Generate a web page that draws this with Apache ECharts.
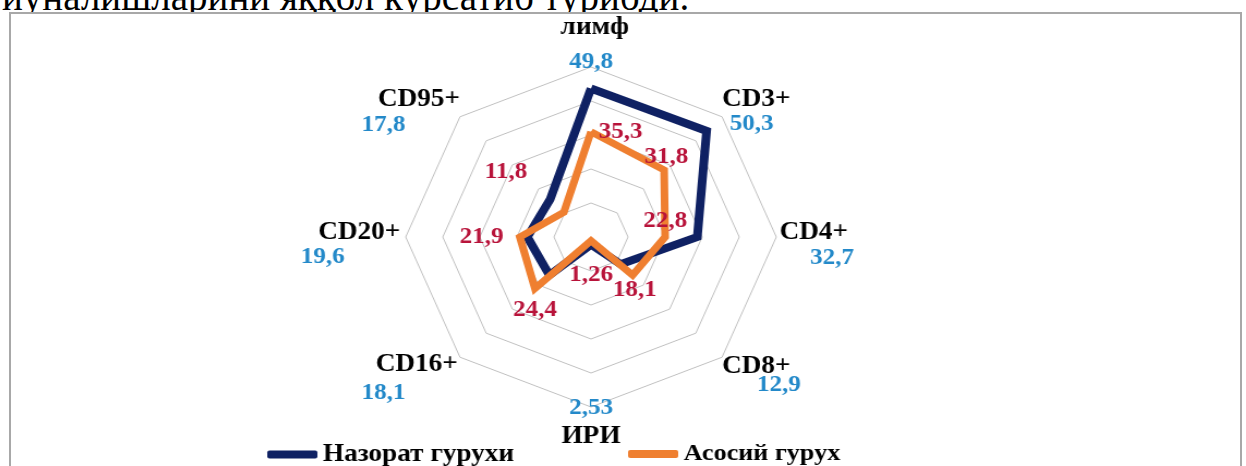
<!DOCTYPE html>
<html><head><meta charset="utf-8">
<script src="https://cdn.jsdelivr.net/npm/echarts@6/dist/echarts.min.js"></script>
<style>
html,body{margin:0;padding:0;background:#fff;overflow:hidden;width:1246px;height:466px}
#txt{position:absolute;left:2px;top:-22px;font:39px/38px "Liberation Serif";white-space:nowrap;color:#000;z-index:1}
#frame{position:absolute;left:9px;top:12px;width:1233px;height:470px;border:2px solid #a8a8a8;background:#fff;z-index:2;box-sizing:border-box}
#chart{position:absolute;left:0;top:0;width:1246px;height:466px;z-index:3;transform:scaleX(1.09);transform-origin:591px 0}
</style></head><body>
<div id="txt">йўналишларини яққол кўрсатиб турибди.</div>
<div id="frame"></div>
<div id="chart"></div>
<script>
// ---- data (clockwise from the top) ----
const categories = ['лимф', 'CD3+', 'CD4+', 'CD8+', 'ИРИ', 'CD16+', 'CD20+', 'CD95+'];
const controlValues = [49.8, 50.3, 32.7, 12.9, 2.53, 18.1, 19.6, 17.8];   // Назорат гурухи
const mainValues = [35.3, 31.8, 22.8, 18.1, 1.26, 24.4, 21.9, 11.8];      // Асосий гурух
const seriesNames = ['Назорат гурухи', 'Асосий гурух'];
const axisMax = 57;

// ECharts lays indicators out counter-clockwise: reorder so they read clockwise
const order = [0, 7, 6, 5, 4, 3, 2, 1];
const pick = arr => order.map(i => arr[i]);

// ---- styles ----
const FONT = 'Liberation Serif';
const NAVY = '#0f2163';
const ORANGE = '#ef7f30';
const BLUE_TXT = '#2389c9';
const RED_TXT = '#b8133a';
const fmt = v => String(v).replace('.', ',');

// axis-name label layout: [spacerLH, nameLH, valueLH, namePad, valuePad, valueFirst]
const nameLayout = [
  [0, 58, 10, [0, 0, 0, 7], [0, 0, 0, 0], false],
  [0, 14.4, 33.6, [0, 0, 0, 0], [0, 0, 0, 7], false],
  [0, 42, 8, [0, 0, 0, 3], [0, 0, 0, 31], false],
  [37.6, 18, 18, [0, 0, 0, 0], [0, 0, 0, 32], false],
  [0, 56, 2, [0, 0, 0, 0], [0, 0, 0, 0], true],
  [43.6, 28, 28, [0, 2, 0, 0], [0, 50, 0, 0], false],
  [0, 40, 8, [0, 5, 0, 0], [0, 56, 0, 0], false],
  [0, 16.4, 33.6, [0, 0, 0, 0], [0, 50, 0, 0], false]
];
// orange label offsets from the vertex [dx, dy]
const mainLabelOffset = [[27, 0], [2, -13], [0, -16], [2, 15], [0, 34], [0, 22], [-35, 0], [-53, -40]];

const axisRich = {};
nameLayout.forEach((l, i) => {
  axisRich['s' + i] = { lineHeight: l[0], fontSize: 4 };
  axisRich['n' + i] = { fontFamily: FONT, fontWeight: 'bold', fontSize: 25, color: '#000', lineHeight: l[1], padding: l[3] };
  axisRich['v' + i] = { fontFamily: FONT, fontWeight: 'bold', fontSize: 23, color: BLUE_TXT, lineHeight: l[2], padding: l[4] };
});
const labelRich = {};
mainLabelOffset.forEach((o, i) => {
  const dx = o[0], dy = o[1];
  labelRich['t' + i] = { fontFamily: FONT, fontWeight: 'bold', fontSize: 23, color: RED_TXT, lineHeight: 22,
    padding: [0, dx < 0 ? -2 * dx : 0, 0, dx > 0 ? 2 * dx : 0] };
  labelRich['p' + i] = { lineHeight: Math.abs(2 * dy), fontSize: 4 };
});

const chart = echarts.init(document.getElementById('chart'), null, { renderer: 'canvas' });
chart.setOption({
  animation: false,
  legend: [0, 1].map(k => ({
    data: [seriesNames[k]],
    left: k === 0 ? 289 : 620,
    top: 437,
    itemWidth: 46,
    itemHeight: 8,
    icon: 'roundRect',
    selectedMode: false,
    textStyle: { fontFamily: FONT, fontWeight: 'bold', fontSize: k === 0 ? 25 : 24, color: '#000' }
  })),
  radar: {
    center: [591, 237],
    radius: 170,
    startAngle: 90,
    splitNumber: 5,
    shape: 'polygon',
    nameGap: 0,
    indicator: pick(categories).map(c => ({ name: c, min: 0, max: axisMax })),
    axisName: {
      color: '#000',
      fontFamily: FONT,
      fontWeight: 'bold',
      fontSize: 25,
      formatter: function (name) {
        const i = categories.indexOf(name);
        const l = nameLayout[i];
        const n = '{n' + i + '|' + name + '}';
        const v = '{v' + i + '|' + fmt(controlValues[i]) + '}';
        let s = l[5] ? v + '\n' + n : n + '\n' + v;
        if (l[0] > 0) s = '{s' + i + '| }\n' + s;
        return s;
      },
      rich: axisRich
    },
    axisLine: { show: false },
    axisTick: { show: false },
    axisLabel: { show: false },
    splitArea: { show: false },
    splitLine: { lineStyle: { color: '#c0c0c0', width: 1 } }
  },
  series: [
    {
      type: 'radar',
      name: seriesNames[0],
      symbol: 'none',
      itemStyle: { color: NAVY },
      lineStyle: { color: NAVY, width: 8, join: 'miter' },
      data: [{ name: seriesNames[0], value: pick(controlValues) }],
      z: 2
    },
    {
      type: 'radar',
      name: seriesNames[1],
      symbol: 'circle',
      symbolSize: 1,
      itemStyle: { color: ORANGE },
      lineStyle: { color: ORANGE, width: 7, join: 'miter' },
      label: {
        show: true,
        position: 'inside',
        formatter: function (p) {
          const i = mainValues.indexOf(p.value);
          const dy = mainLabelOffset[i][1];
          const t = '{t' + i + '|' + fmt(mainValues[i]) + '}';
          if (dy > 0) return '{p' + i + '| }\n' + t;
          if (dy < 0) return t + '\n{p' + i + '| }';
          return t;
        },
        rich: labelRich
      },
      data: [{ name: seriesNames[1], value: pick(mainValues) }],
      z: 3
    }
  ]
});
</script>
</body></html>
